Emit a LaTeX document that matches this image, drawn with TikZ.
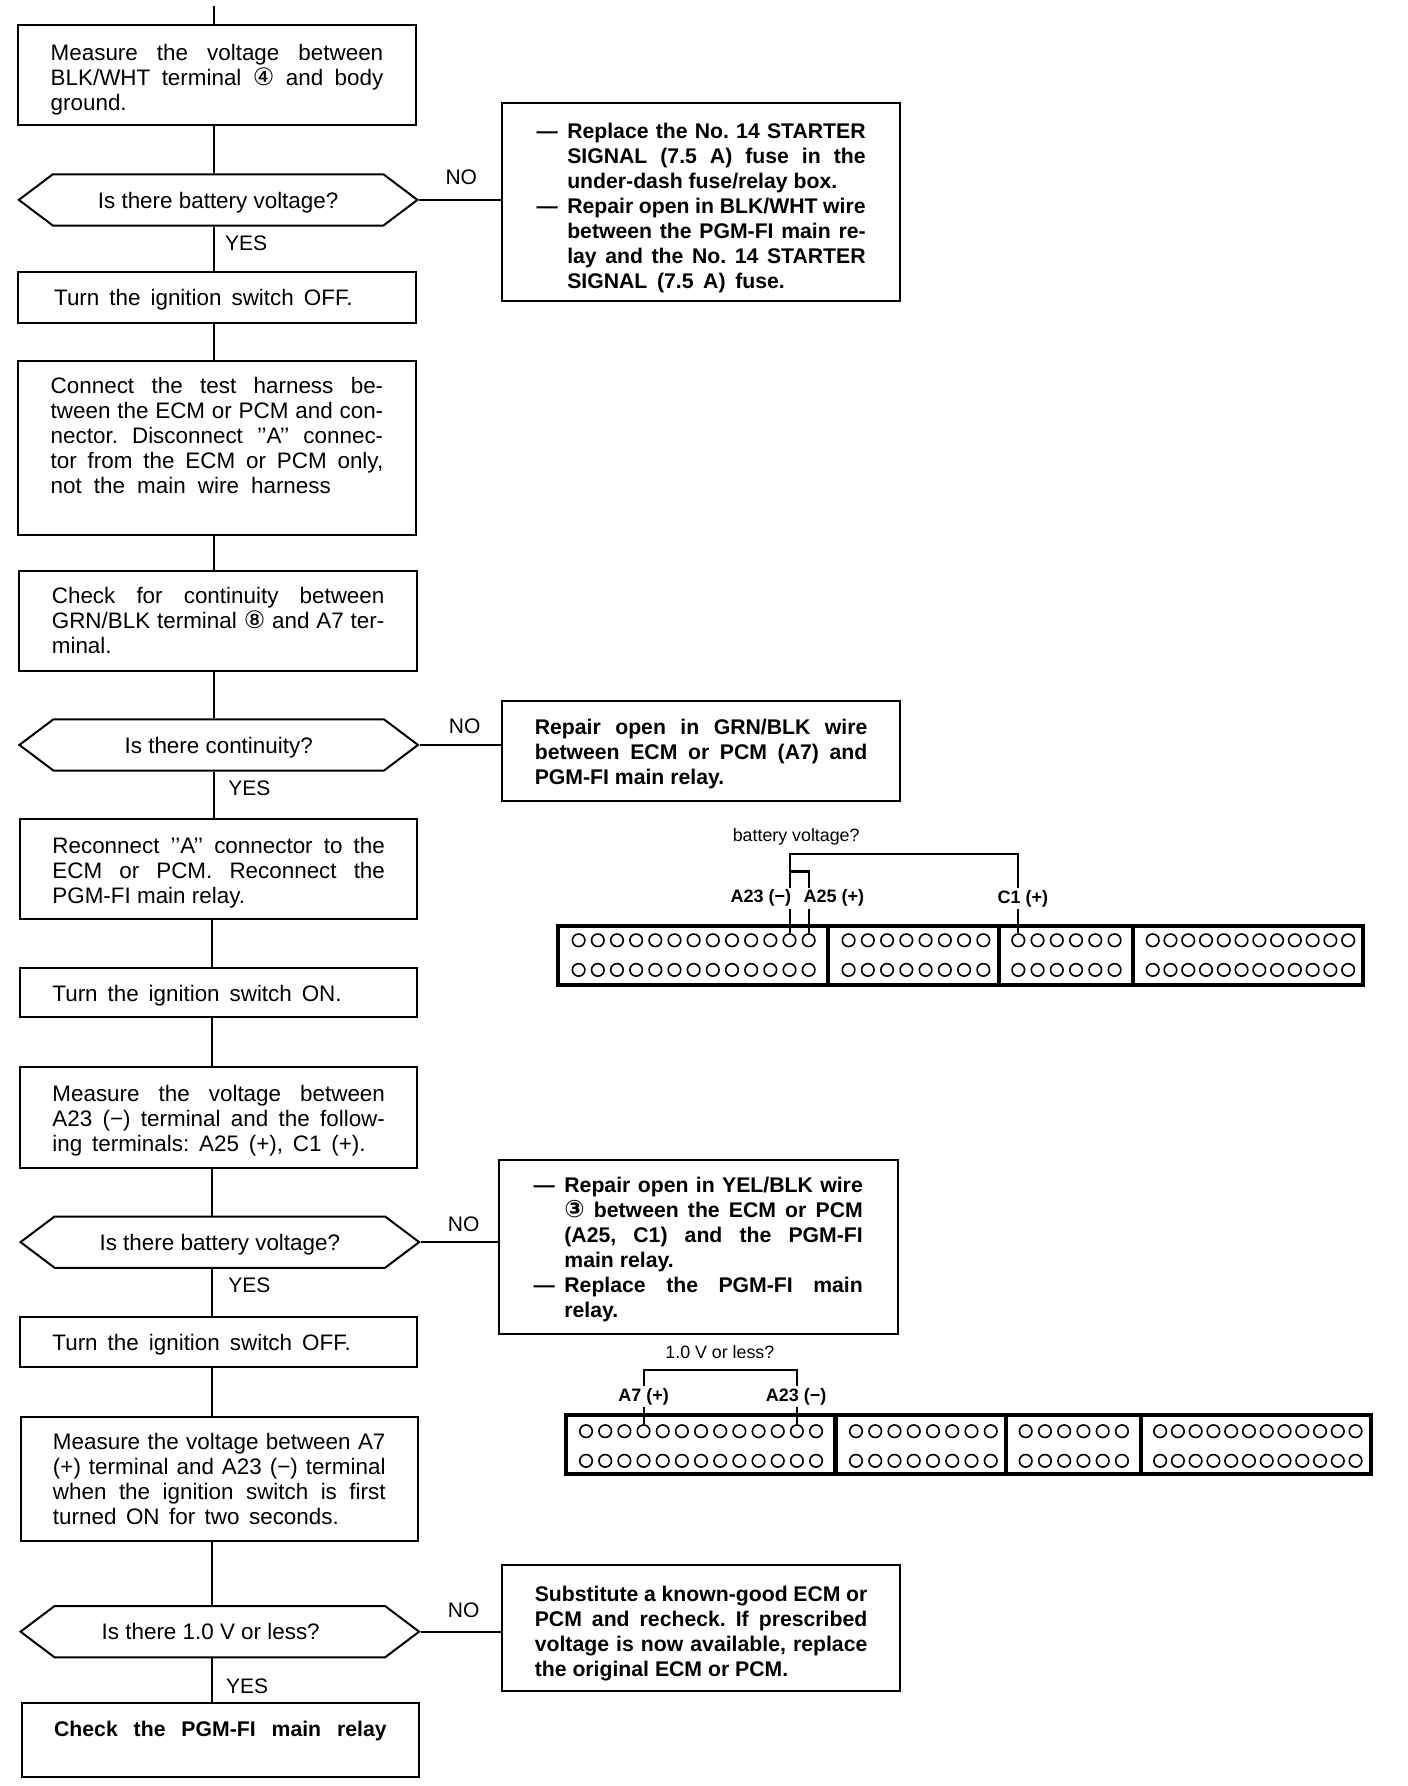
\documentclass[tikz,border=0pt]{standalone}
\usepackage{fontspec}
\setmainfont{Liberation Sans}
\newfontfamily\circfont{DejaVu Sans}
\usetikzlibrary{shapes.symbols}
\frenchspacing
\newcommand{\fline}[1]{\makebox[\linewidth][s]{#1}}
\newcommand{\dline}[1]{\makebox[0.54cm][l]{---}\makebox[5.24cm][s]{#1}}
\newcommand{\iline}[1]{\hspace*{0.54cm}\makebox[5.24cm][s]{#1}}
\newcommand{\circnum}[1]{{\circfont\fontsize{12}{12.5}\selectfont #1}}
\tikzset{
  flowline/.style={line width=1pt},
  low/.style={execute at begin node={\rule{0pt}{\dimexpr 8pt+#1\relax}}},
  stepbox/.style={draw, line width=1pt, minimum width=6.98cm, inner sep=0pt,
    text width=5.84cm, align=flush left, font=\fontsize{11.2}{12.5}\selectfont},
  fixbox/.style={stepbox, minimum width=7cm, font=\bfseries\fontsize{10.6}{12.5}\selectfont},
  askbox/.style={draw, line width=1pt, shape=signal, signal to=east and west,
    signal pointer angle=74, minimum width=7cm, minimum height=0.9cm, inner sep=0pt,
    text height=0.29cm, text depth=0pt, font=\fontsize{11.2}{12.5}\selectfont},
  answer/.style={font=\fontsize{10.5}{12.5}\selectfont, inner sep=0pt},
  part/.style={draw, line width=2pt, minimum height=1.04cm, inner sep=0pt},
  hole/.style={draw, circle, line width=0.8pt, minimum size=0.22cm, inner sep=0pt},
  termlabel/.style={fill=white, inner sep=1pt, font=\bfseries\fontsize{9}{10}\selectfont},
  asklabel/.style={inner sep=0pt, font=\fontsize{8.9}{10}\selectfont},
}
\begin{document}
\begin{tikzpicture}[x=0.02cm,y=-0.02cm]
  \useasboundingbox (0,0) rectangle (1236,1568);
  \coordinate (entry) at (188,5);
  \coordinate (spine) at (186,0);

  % left column
  \node[stepbox, low=0.16cm, minimum height=1.76cm] (measure) at (190.5,66) {\fline{Measure the voltage between}\\\fline{BLK/WHT terminal \circnum{④} and body}\\ground.};
  \node[askbox] (askbat) at (191.5,175.5) {Is there battery voltage?};
  \node[stepbox, low=0.08cm, minimum height=0.9cm] (off) at (190.5,261.5) {\hspace*{0.06cm}\makebox[5.24cm][s]{Turn the ignition switch OFF.}};
  \node[stepbox, minimum height=3.06cm] (harness) at (190.5,393.5) {\fline{Connect the test harness be-}\\\fline{tween the ECM or PCM and con-}\\\fline{nector. Disconnect '{}'A'{}' connec-}\\\fline{tor from the ECM or PCM only,}\\\makebox[4.92cm][s]{not the main wire harness}\\\mbox{}};
  \node[stepbox, minimum height=1.76cm] (contin) at (191.5,545) {\fline{Check for continuity between}\\\fline{GRN/BLK terminal \circnum{⑧} and A7 ter-}\\minal.};
  \node[askbox] (askcon) at (192,654) {Is there continuity?};
  \node[stepbox, low=0.14cm, minimum height=1.76cm] (reconn) at (192,763) {\fline{Reconnect '{}'A'{}' connector to the}\\\fline{ECM or PCM. Reconnect the}\\PGM-FI main relay.};
  \node[stepbox, low=0.1cm, minimum height=0.86cm] (on) at (192,871.5) {\makebox[5.08cm][s]{Turn the ignition switch ON.}};
  \node[stepbox, low=0.12cm, minimum height=1.76cm] (measb) at (192,981) {\fline{Measure the voltage between}\\\fline{A23 (−) terminal and the follow-}\\\makebox[5.5cm][s]{ing terminals: A25 (+), C1 (+).}};
  \node[askbox] (askbatb) at (193,1090.5) {Is there battery voltage?};
  \node[stepbox, low=0.12cm, minimum height=0.88cm] (offb) at (192,1178) {\makebox[5.24cm][s]{Turn the ignition switch OFF.}};
  \node[stepbox, minimum height=2.18cm] (measc) at (192.5,1298.5) {\fline{Measure the voltage between A7}\\\fline{(+) terminal and A23 (−) terminal}\\\fline{when the ignition switch is first}\\\makebox[5.02cm][s]{turned ON for two seconds.}};
  \node[askbox] (asklow) at (193,1432.5) {\hspace*{-0.32cm}Is there 1.0 V or less?};
  \node[stepbox, low=0.04cm, minimum height=1.3cm, font=\bfseries\fontsize{10.6}{12.5}\selectfont] (relay) at (193.5,1527.5) {\fline{Check the PGM-FI main relay}\\\mbox{}};

  % repair boxes
  \node[fixbox, low=0.22cm, text width=5.78cm, minimum height=3.48cm] (fixa) at (615.5,177) {\dline{Replace the No. 14 STARTER}\\\iline{SIGNAL (7.5 A) fuse in the}\\\hspace*{0.54cm}under-dash fuse/relay box.\\\dline{Repair open in BLK/WHT wire}\\\iline{between the PGM-FI main re-}\\\iline{lay and the No. 14 STARTER}\\\hspace*{0.54cm}\makebox[3.82cm][s]{SIGNAL (7.5 A) fuse.}};
  \node[fixbox, low=0.12cm, minimum height=1.76cm] (fixb) at (615.5,659) {\fline{Repair open in GRN/BLK wire}\\\fline{between ECM or PCM (A7) and}\\PGM-FI main relay.};
  \node[fixbox, low=0.1cm, text width=5.78cm, minimum height=3.06cm] (fixc) at (613,1094.5) {\dline{Repair open in YEL/BLK wire}\\\iline{\circnum{③} between the ECM or PCM}\\\iline{(A25, C1) and the PGM-FI}\\\hspace*{0.54cm}main relay.\\\dline{Replace the PGM-FI main}\\\hspace*{0.54cm}relay.};
  \node[fixbox, low=0.16cm, minimum height=2.22cm] (fixd) at (615.5,1429.5) {\fline{Substitute a known-good ECM or}\\\fline{PCM and recheck. If prescribed}\\\fline{voltage is now available, replace}\\the original ECM or PCM.};

  % flow
  \draw[flowline] (entry) -- (measure.north -| entry);
  \draw[flowline] (measure.south -| entry) -- (askbat.north -| entry);
  \draw[flowline] (askbat.south -| entry) -- (off.north -| entry);
  \draw[flowline] (off.south -| entry) -- (harness.north -| entry);
  \draw[flowline] (harness.south -| entry) -- (contin.north -| entry);
  \draw[flowline] (contin.south -| entry) -- (askcon.north -| entry);
  \draw[flowline] (askcon.south -| entry) -- (reconn.north -| entry);
  \draw[flowline] (reconn.south -| spine) -- (on.north -| spine);
  \draw[flowline] (on.south -| spine) -- (measb.north -| spine);
  \draw[flowline] (measb.south -| spine) -- (askbatb.north -| spine);
  \draw[flowline] (askbatb.south -| spine) -- (offb.north -| spine);
  \draw[flowline] (offb.south -| spine) -- (measc.north -| spine);
  \draw[flowline] (measc.south -| spine) -- (asklow.north -| spine);
  \draw[flowline] (asklow.south -| spine) -- (relay.north -| spine);
  \draw[flowline] (askbat.east) -- (askbat.east -| fixa.west);
  \draw[flowline] (askcon.east) -- (askcon.east -| fixb.west);
  \draw[flowline] (askbatb.east) -- (askbatb.east -| fixc.west);
  \draw[flowline] (asklow.east) -- (asklow.east -| fixd.west);

  \node[answer] (noa) at (405,156) {NO};
  \node[answer] (yesa) at (216,214) {YES};
  \node[answer] (nob) at (408,638) {NO};
  \node[answer] (yesb) at (219,692) {YES};
  \node[answer] (noc) at (407,1075) {NO};
  \node[answer] (yesc) at (219,1128) {YES};
  \node[answer] (nod) at (407,1414) {NO};
  \node[answer] (yesd) at (217,1480) {YES};

  % connector blocks
  \foreach \p/\ya/\yh/\xs in {u/839/0/0,v/1268.5/1.5/6.5}{
    \node[part, minimum width=4.74cm] (\p a) at (608.5+\xs,\ya) {};
    \node[part, minimum width=3cm] (\p b) at (802+\xs,\ya) {};
    \node[part, minimum width=2.36cm] (\p c) at (936+\xs,\ya) {};
    \node[part, minimum width=4.04cm] (\p d) at (1096+\xs,\ya) {};
    \foreach \g/\xo/\dx/\c in {a/508/16.83/13,b/745/16.9/8,c/894/16.9/6,d/1012/15.6/12}{
      \foreach \r/\yo in {1/-13.5,2/12.5}{
        \foreach \i in {1,...,\c}{
          \node[hole] (\p\g-\r-\i) at ({\xo+\xs+(\i-1)*\dx},\ya+\yo+\yh) {};
        }
      }
    }
  }

  % wires
  \coordinate (wiretop) at (0,750);
  \coordinate (wirejog) at (0,765);
  \coordinate (wiretopb) at (0,1203);
  \draw[flowline] (ua-1-12.north) |- (uc-1-1.north |- wiretop) -- (uc-1-1.north);
  \draw[flowline] (ua-1-13.north) |- (ua-1-12.north |- wirejog);
  \draw[line width=1.8pt] (ua-1-13.north |- wirejog) -- (ua-1-12.north |- wirejog);
  \draw[flowline] (va-1-4.north) |- (va-1-12.north |- wiretopb) -- (va-1-12.north);

  \node[termlabel] (lbla) at (668,788.5) {A23 (−)};
  \node[termlabel] (lblb) at (732,788.5) {A25 (+)};
  \node[termlabel] (lblc) at (898,789) {C1 (+)};
  \node[asklabel] (lblv) at (699,735) {battery voltage?};
  \node[termlabel] (lbld) at (565,1226) {A7 (+)};
  \node[termlabel] (lble) at (699,1226) {A23 (−)};
  \node[asklabel] (lblw) at (632,1187) {1.0 V or less?};
\end{tikzpicture}
\end{document}
